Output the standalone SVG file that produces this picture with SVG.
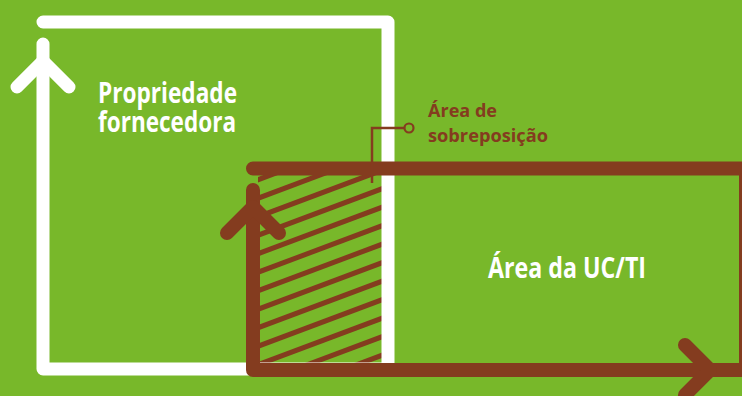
<svg xmlns="http://www.w3.org/2000/svg" width="742" height="396" viewBox="0 0 742 396">
<style>
.w{fill:none;stroke:#FFFFFF;stroke-width:13;stroke-linecap:round;stroke-linejoin:round}
.b{fill:none;stroke:#843C1F;stroke-width:14;stroke-linecap:round;stroke-linejoin:round}
.h{stroke:#843C1F;stroke-width:5}
.lead{fill:none;stroke:#843C1F;stroke-width:2.5}
.t{font-family:"Open Sans","Liberation Sans",sans-serif;font-weight:bold}
</style>
<defs>
<clipPath id="hc"><rect x="258" y="170" width="124" height="195"/></clipPath>
</defs>
<rect width="742" height="396" fill="#78B82A"/>
<g id="overlap-hatch" clip-path="url(#hc)">
<line class="h" x1="250" y1="164.25" x2="390" y2="111.75"/>
<line class="h" x1="250" y1="182.75" x2="390" y2="130.25"/>
<line class="h" x1="250" y1="201.25" x2="390" y2="148.75"/>
<line class="h" x1="250" y1="219.75" x2="390" y2="167.25"/>
<line class="h" x1="250" y1="238.25" x2="390" y2="185.75"/>
<line class="h" x1="250" y1="256.75" x2="390" y2="204.25"/>
<line class="h" x1="250" y1="275.25" x2="390" y2="222.75"/>
<line class="h" x1="250" y1="293.75" x2="390" y2="241.25"/>
<line class="h" x1="250" y1="312.25" x2="390" y2="259.75"/>
<line class="h" x1="250" y1="330.75" x2="390" y2="278.25"/>
<line class="h" x1="250" y1="349.25" x2="390" y2="296.75"/>
<line class="h" x1="250" y1="367.75" x2="390" y2="315.25"/>
<line class="h" x1="250" y1="386.25" x2="390" y2="333.75"/>
<line class="h" x1="250" y1="404.75" x2="390" y2="352.25"/>
<line class="h" x1="250" y1="423.25" x2="390" y2="370.75"/>
</g>
<g id="propriedade-fornecedora">
<path class="w" d="M43,44 V369 H388 V22 H43"/>
<path class="w" d="M17,87 L43,61 L69,87"/>
<text class="t" fill="#FFFFFF" font-size="28"><tspan x="98" y="103" textLength="139" lengthAdjust="spacingAndGlyphs">Propriedade</tspan><tspan x="98" y="132" textLength="138" lengthAdjust="spacingAndGlyphs">fornecedora</tspan></text>
</g>
<g id="area-uc-ti">
<path class="b" d="M253,190 V370 H746 V168.5 H253"/>
<path class="b" d="M227,233 L253,207 L279,233"/>
<path class="b" d="M685,345 L710,370 L685,395"/>
<text class="t" fill="#FFFFFF" font-size="29" x="488" y="278" textLength="158" lengthAdjust="spacingAndGlyphs">Área da UC/TI</text>
</g>
<g id="connectors">
<path class="lead" d="M372,183 V128 H404.5"/>
<circle cx="409" cy="128" r="4.5" fill="#78B82A" stroke="#843C1F" stroke-width="2.2"/>
</g>
<g id="area-sobreposicao">
<text class="t" fill="#843C1F" font-size="18"><tspan x="428" y="117" textLength="69" lengthAdjust="spacingAndGlyphs">Área de</tspan><tspan x="428" y="142" textLength="120" lengthAdjust="spacingAndGlyphs">sobreposição</tspan></text>
</g>
</svg>
